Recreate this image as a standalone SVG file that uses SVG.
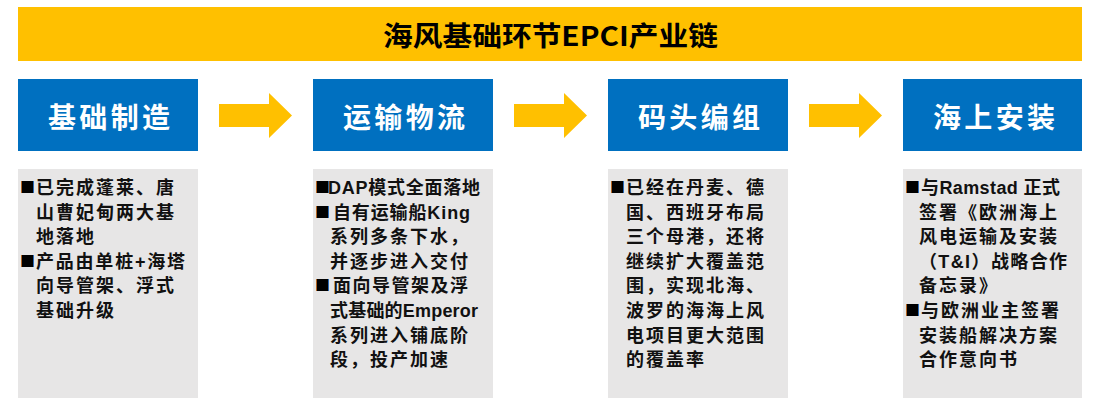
<svg xmlns="http://www.w3.org/2000/svg" xmlns:xlink="http://www.w3.org/1999/xlink" width="1096" height="408" viewBox="0 0 1096 408">
<style>
.bar{fill:#FFC000}
.step{fill:#0070C0}
.desc{fill:#E7E6E6}
.arrow{fill:#FFC000}
.title{font-family:"Noto Sans CJK SC","Noto Sans",sans-serif;font-size:27px;font-weight:bold;fill:#000}
.lbl{font-family:"Noto Sans CJK SC",sans-serif;font-size:28px;fill:#fff;font-weight:bold}
.t{font-family:"Liberation Sans","Noto Sans CJK SC",sans-serif;font-size:18px;font-weight:bold;fill:#111;letter-spacing:2px}
.b{font-family:"Noto Sans CJK SC",sans-serif;font-size:15px;fill:#000}
</style>
<defs>
<polygon id="arr" points="0,11 50,11 50,0 73,22.5 50,45 50,34 0,34"/>
</defs>
<rect width="1096" height="408" fill="#fff"/>
<g id="title">
<rect class="bar" x="18" y="7" width="1064" height="54"/>
<text class="title" x="550.5" y="46" text-anchor="middle" textLength="335" lengthAdjust="spacingAndGlyphs">海风基础环节EPCI产业链</text>
</g>
<g id="connectors">
<use href="#arr" class="arrow" x="219" y="93"/>
<use href="#arr" class="arrow" x="514" y="93"/>
<use href="#arr" class="arrow" x="809" y="93"/>
</g>
<g id="step1">
<rect class="step" x="18" y="79" width="180" height="72"/>
<text class="lbl" x="109" y="128" text-anchor="middle" textLength="122">基础制造</text>
</g>
<g id="step2">
<rect class="step" x="313" y="79" width="180" height="72"/>
<text class="lbl" x="404" y="128" text-anchor="middle" textLength="122">运输物流</text>
</g>
<g id="step3">
<rect class="step" x="608" y="79" width="180" height="72"/>
<text class="lbl" x="699" y="128" text-anchor="middle" textLength="122">码头编组</text>
</g>
<g id="step4">
<rect class="step" x="903" y="79" width="179" height="72"/>
<text class="lbl" x="994" y="128" text-anchor="middle" textLength="122">海上安装</text>
</g>
<g id="desc1">
<rect class="desc" x="18" y="169" width="180" height="229"/>
<text class="b" x="20" y="193">■</text>
<text class="t" x="36" y="194">已完成蓬莱、唐</text>
<text class="t" x="36" y="218.6">山曹妃甸两大基</text>
<text class="t" x="36" y="243.2">地落地</text>
<text class="b" x="20" y="266.8">■</text>
<text class="t" x="36" y="267.8" textLength="151">产品由单桩+海塔</text>
<text class="t" x="36" y="292.4">向导管架、浮式</text>
<text class="t" x="36" y="317">基础升级</text>
</g>
<g id="desc2">
<rect class="desc" x="313" y="169" width="180" height="229"/>
<text class="b" x="315" y="193">■</text>
<text class="t" x="328" y="194" textLength="154">DAP模式全面落地</text>
<text class="b" x="315" y="217.6">■</text>
<text class="t" x="333" y="218.6" textLength="139">自有运输船King</text>
<text class="t" x="330" y="243.2">系列多条下水，</text>
<text class="t" x="330" y="267.8">并逐步进入交付</text>
<text class="b" x="315" y="291.4">■</text>
<text class="t" x="333" y="292.4" textLength="137">面向导管架及浮</text>
<text class="t" x="330" y="317" textLength="150">式基础的Emperor</text>
<text class="t" x="330" y="341.6">系列进入铺底阶</text>
<text class="t" x="330" y="366.2">段，投产加速</text>
</g>
<g id="desc3">
<rect class="desc" x="608" y="169" width="180" height="229"/>
<text class="b" x="610" y="193">■</text>
<text class="t" x="626" y="194">已经在丹麦、德</text>
<text class="t" x="626" y="218.6">国、西班牙布局</text>
<text class="t" x="626" y="243.2">三个母港，还将</text>
<text class="t" x="626" y="267.8">继续扩大覆盖范</text>
<text class="t" x="626" y="292.4">围，实现北海、</text>
<text class="t" x="626" y="317">波罗的海海上风</text>
<text class="t" x="626" y="341.6">电项目更大范围</text>
<text class="t" x="626" y="366.2">的覆盖率</text>
</g>
<g id="desc4">
<rect class="desc" x="903" y="169" width="179" height="229"/>
<text class="b" x="905" y="193">■</text>
<text class="t" x="921" y="194" textLength="141">与Ramstad 正式</text>
<text class="t" x="919" y="218.6">签署《欧洲海上</text>
<text class="t" x="919" y="243.2">风电运输及安装</text>
<text class="t" x="919" y="267.8" textLength="150">（T&amp;I）战略合作</text>
<text class="t" x="919" y="292.4">备忘录》</text>
<text class="b" x="905" y="316">■</text>
<text class="t" x="921" y="317">与欧洲业主签署</text>
<text class="t" x="919" y="341.6">安装船解决方案</text>
<text class="t" x="919" y="366.2">合作意向书</text>
</g>
</svg>
